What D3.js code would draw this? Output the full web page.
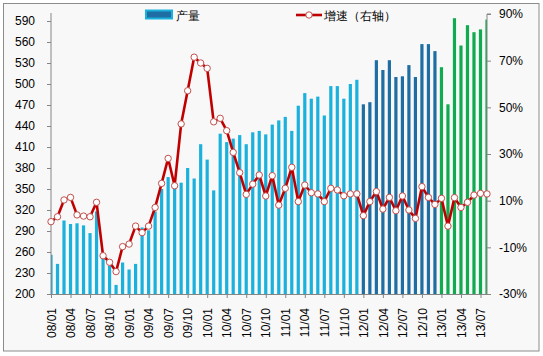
<!DOCTYPE html>
<html><head><meta charset="utf-8">
<script src="https://cdn.jsdelivr.net/npm/d3@7"></script>
<style>
html,body{margin:0;padding:0;background:#fff;}
svg text{font-family:"Liberation Sans",Arial,sans-serif;}
</style></head>
<body><svg id="c" width="543" height="356"></svg>
<script>
const categories = [
 "08/01","08/02","08/03","08/04","08/05","08/06","08/07","08/08","08/09","08/10","08/11","08/12",
 "09/01","09/02","09/03","09/04","09/05","09/06","09/07","09/08","09/09","09/10","09/11","09/12",
 "10/01","10/02","10/03","10/04","10/05","10/06","10/07","10/08","10/09","10/10","10/11","10/12",
 "11/01","11/02","11/03","11/04","11/05","11/06","11/07","11/08","11/09","11/10","11/11","11/12",
 "12/01","12/02","12/03","12/04","12/05","12/06","12/07","12/08","12/09","12/10","12/11","12/12",
 "13/01","13/02","13/03","13/04","13/05","13/06","13/07","13/08"];
const output = [
 256,243,305,300,301,298,287,318,251,241,213,245,
 235,243,295,291,318,350,367,351,359,380,365,414,
 392,348,429,417,422,427,414,431,433,428,442,448,
 453,433,469,487,479,482,455,497,497,479,500,506,
 471,474,534,520,534,510,511,527,510,557,557,547,
 524,471,594,555,584,574,578,592];
const growth = [
 1.0,3.1,10.3,11.4,3.9,3.4,3.1,9.3,-13.6,-16.4,-20.4,-9.7,
 -8.6,-0.9,-3.7,-0.9,7.1,17.4,28.1,16.4,42.9,57.1,71.5,69.0,
 66.7,43.8,45.3,40.0,30.7,22.0,12.7,17.1,21.0,12.0,20.7,8.1,
 15.3,24.3,9.6,16.7,13.4,12.9,9.6,15.3,14.6,12.1,12.9,12.9,
 3.6,9.6,13.9,6.4,11.4,5.7,12.0,6.0,2.4,16.0,11.4,8.4,
 11.0,-0.9,11.3,7.1,9.3,12.4,13.1,12.9];
const leftTicks = [200,230,260,290,320,350,380,410,440,470,500,530,560,590];
const rightTicks = [-30,-10,10,30,50,70,90];
const tickLabels = ["08/01","08/04","08/07","08/10","09/01","09/04","09/07","09/10","10/01","10/04","10/07","10/10",
 "11/01","11/04","11/07","11/10","12/01","12/04","12/07","12/10","13/01","13/04","13/07"];
const yearColors = {"08":"#1ab1dd","09":"#1ab1dd","10":"#1ab1dd","11":"#1ab1dd","12":"#1f6ea3","13":"#10ab50"};
const legendNames = ["产量","增速（右轴）"];

const svg = d3.select("#c");
const L = 51, R = 487, T = 14, B = 294;

svg.append("rect").attr("x",3.5).attr("y",3.5).attr("width",535.5).attr("height",347.5)
  .attr("fill","#f8f8f8").attr("stroke","#8c8c8c").attr("stroke-width",1);

const x = d3.scalePoint().domain(categories).range([L,R]);
const yL = d3.scaleLinear().domain([200,600]).range([B,T]);
const yR = d3.scaleLinear().domain([-30,90]).range([B,T]);

svg.append("defs").append("clipPath").attr("id","pc")
  .append("rect").attr("x",L).attr("y",T-5).attr("width",R-L).attr("height",B-T+5);

const bw = 3.2;
svg.append("g").attr("clip-path","url(#pc)").selectAll("rect").data(categories).join("rect")
  .attr("x",d=>x(d)-bw/2).attr("width",bw)
  .attr("y",(d,i)=>yL(output[i])).attr("height",(d,i)=>B-yL(output[i]))
  .attr("fill",d=>yearColors[d.slice(0,2)]);

// axes
const axL = svg.append("g").attr("transform",`translate(${L},0)`)
  .call(d3.axisLeft(yL).tickValues(leftTicks).tickSize(4).tickSizeOuter(0).tickPadding(12));
const axR = svg.append("g").attr("transform",`translate(${R},0)`)
  .call(d3.axisRight(yR).tickValues(rightTicks).tickSize(4).tickSizeOuter(0).tickPadding(8).tickFormat(d=>d+"%"));
const axB = svg.append("g").attr("transform",`translate(0,${B})`)
  .call(d3.axisBottom(x).tickValues(tickLabels).tickSize(4).tickSizeOuter(0).tickPadding(14));
[axL,axR,axB].forEach(a=>{
  a.select(".domain").attr("stroke","#868686");
  a.selectAll(".tick line").attr("stroke","#868686");
  a.selectAll("text").attr("font-size",12).attr("fill","#000").attr("font-family","Liberation Sans, Arial, sans-serif");
});
axL.select(".domain").attr("d",`M0,${T-1}V${B}`);
axR.select(".domain").attr("d",`M4,${T}H0V${B}`);
axB.selectAll("text").attr("text-anchor","end").attr("transform",function(){
  return "translate(0,0)";
});
axB.selectAll(".tick text").attr("y",0).attr("dy","0.35em").attr("x",-14)
  .attr("transform","rotate(-90)");

// line
const line = d3.line().x((d,i)=>x(categories[i])).y(d=>yR(d));
svg.append("path").datum(growth).attr("d",line).attr("fill","none")
  .attr("stroke","#c00000").attr("stroke-width",2.6).attr("stroke-linejoin","round");
svg.append("g").selectAll("circle").data(growth).join("circle")
  .attr("cx",(d,i)=>x(categories[i])).attr("cy",d=>yR(d)).attr("r",3.2)
  .attr("fill","#fff").attr("stroke","#c0504d").attr("stroke-width",1);

// legend
const lg = svg.append("g");
lg.append("rect").attr("x",146).attr("y",10.5).attr("width",26).attr("height",8)
  .attr("fill","#1f6ea3").attr("stroke","#1ab1dd").attr("stroke-width",2);
lg.append("text").attr("x",176).attr("y",19.5).attr("font-size",12)
  .attr("font-family","Noto Sans CJK SC").text(legendNames[0]);
lg.append("line").attr("x1",296).attr("x2",322).attr("y1",15).attr("y2",15)
  .attr("stroke","#c00000").attr("stroke-width",2.6);
lg.append("circle").attr("cx",309).attr("cy",15).attr("r",3.2)
  .attr("fill","#fff").attr("stroke","#c0504d").attr("stroke-width",1);
lg.append("text").attr("x",324).attr("y",19.5).attr("font-size",12)
  .attr("font-family","Noto Sans CJK SC").text(legendNames[1]);
</script></body></html>
